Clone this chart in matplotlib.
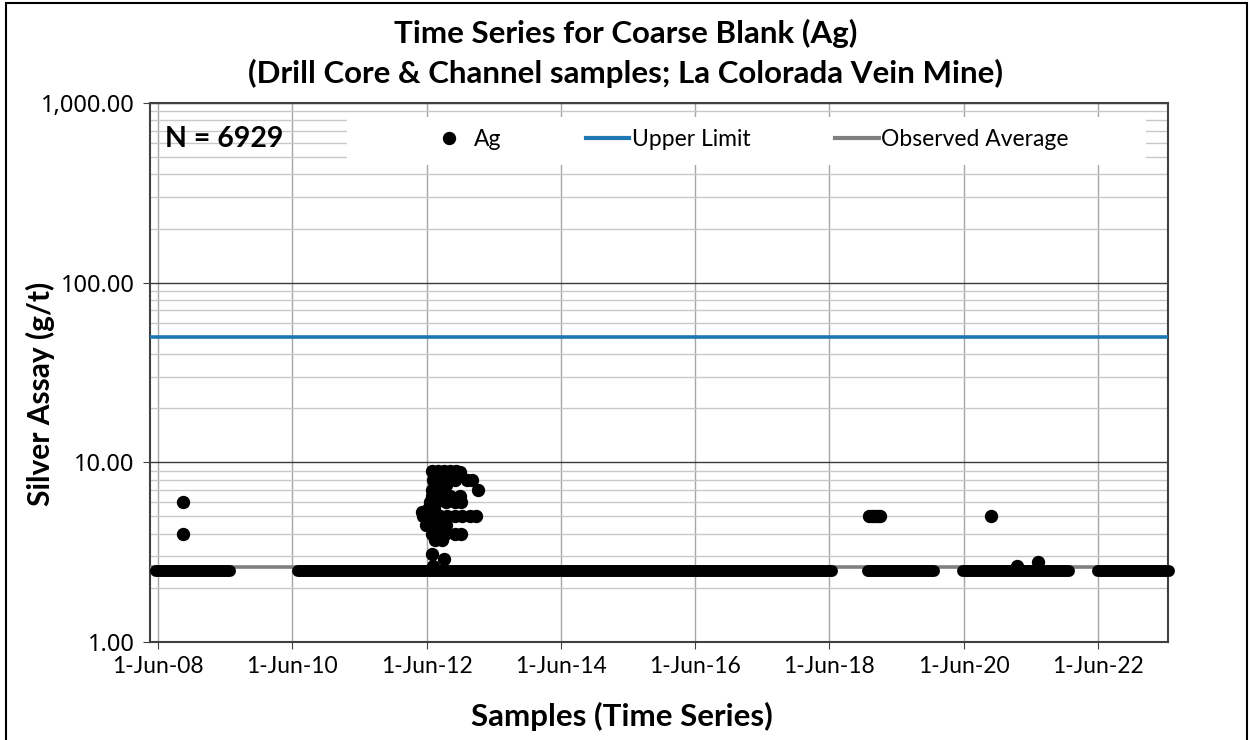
import numpy as np
import pandas as pd
import matplotlib
matplotlib.use("Agg")
import matplotlib.pyplot as plt
from matplotlib.ticker import FuncFormatter, LogLocator
from matplotlib.lines import Line2D
from matplotlib.patches import Rectangle

plt.rcParams['font.family'] = ['Lato', 'DejaVu Sans']

# dense runs of blank results at the detection value (drawn as a band of dots)
band_start = ["2008-05-21", "2010-07-02", "2018-12-27", "2020-05-28", "2022-06-01"]
band_end = ["2009-06-27", "2018-06-15", "2019-12-21", "2021-12-26", "2023-06-22"]
band_value = 2.5

# individual results above the detection value
pt_dates = [
    "2008-10-15", "2008-10-15",
    # 2012-2013 cluster
    "2012-06-30", "2012-08-02", "2012-09-04", "2012-10-06", "2012-11-08", "2012-11-30",
    "2012-07-06", "2012-08-13", "2012-09-20", "2012-11-02", "2013-01-07", "2013-02-03",
    "2012-07-22", "2012-09-15",
    "2012-06-30", "2012-08-13", "2013-03-08",
    "2012-06-30", "2012-08-13", "2012-10-06", "2012-11-30",
    "2012-06-19", "2012-07-22", "2012-09-15", "2012-11-02", "2012-12-05",
    "2012-06-09", "2012-07-11",
    "2012-05-12", "2012-06-09", "2012-07-06", "2012-08-13", "2012-09-20", "2012-11-02",
    "2012-12-11", "2013-01-23", "2013-02-25", "2012-05-07",
    "2012-05-29", "2012-07-22", "2012-09-15",
    "2012-06-30", "2012-08-02", "2012-09-09", "2012-11-02", "2012-12-05",
    "2012-07-17", "2012-08-24",
    "2012-06-30", "2012-09-04", "2012-07-06",
    # 2019-2021
    "2019-01-02", "2019-01-20", "2019-02-05", "2019-02-20", "2019-03-03",
    "2020-10-28", "2021-03-18", "2021-07-10",
]
pt_values = [
    6.0, 4.0,
    9.0, 9.0, 9.0, 9.0, 9.0, 8.8,
    8.0, 8.0, 8.0, 8.0, 8.0, 8.0,
    7.5, 7.5,
    7.0, 7.0, 7.0,
    6.5, 6.5, 6.5, 6.5,
    6.0, 6.0, 6.0, 6.0, 6.0,
    5.5, 5.5,
    5.0, 5.0, 5.0, 5.0, 5.0, 5.0,
    5.0, 5.0, 5.0, 5.3,
    4.5, 4.5, 4.5,
    4.0, 4.0, 4.0, 4.0, 4.0,
    3.7, 3.7,
    3.1, 2.9, 2.65,
    5.0, 5.0, 5.0, 5.0, 5.0,
    5.0, 2.65, 2.8,
]

upper_limit = 50.0
observed_avg = 2.6
n_samples = 6929

x_min, x_max = "2008-04-18", "2023-06-17"
tick_dates = ["2008-06-01", "2010-06-01", "2012-06-01", "2014-06-01",
              "2016-06-01", "2018-06-01", "2020-06-01", "2022-06-01"]

fig = plt.figure(figsize=(12.51, 7.40), dpi=100)
ax = fig.add_axes([150 / 1251, 98 / 740, 1018 / 1251, 539 / 740])

xlo, xhi = pd.Timestamp(x_min), pd.Timestamp(x_max)
ax.plot([xlo, xhi], [upper_limit, upper_limit], color="#1F77B4", lw=2.6, zorder=3)
ax.plot([xlo, xhi], [observed_avg, observed_avg], color="#808080", lw=2.6, zorder=3)

dot = 8.6
for s, e in zip(band_start, band_end):
    ax.plot([pd.Timestamp(s), pd.Timestamp(e)], [band_value, band_value],
            color="black", lw=dot, solid_capstyle="round", zorder=4, clip_on=False)
ax.plot(pd.to_datetime(pt_dates), pt_values, "o", color="black", ms=dot,
        mec="black", zorder=5, clip_on=False)

ax.set_yscale("log")
ax.set_ylim(1, 1000)
ax.set_xlim(xlo, xhi)
ax.yaxis.set_major_locator(LogLocator(base=10, numticks=10))
ax.yaxis.set_minor_locator(LogLocator(base=10, subs=np.arange(2, 10), numticks=10))
ax.yaxis.set_major_formatter(FuncFormatter(lambda v, p: f"{v:,.2f}"))
ax.yaxis.set_minor_formatter(FuncFormatter(lambda v, p: ""))

ticks = pd.to_datetime(tick_dates)
ax.set_xticks(ticks)
ax.set_xticklabels([f"{d.day}-{d:%b-%y}" for d in ticks])

ax.grid(True, which="major", axis="y", color="#3C3C3C", lw=1.0)
ax.grid(True, which="minor", axis="y", color="#C8C8C8", lw=1.0)
ax.grid(True, which="major", axis="x", color="#A6A6A6", lw=1.0)
ax.tick_params(axis="both", which="major", color="#404040",
               length=5, direction="out", pad=6)
ax.tick_params(axis="x", labelsize=16.5, pad=5)
ax.tick_params(axis="y", labelsize=17)
for lab in ax.get_yticklabels():
    lab.set_family(["Noto Sans", "DejaVu Sans"])
ax.tick_params(axis="y", which="minor", length=0)
for sp in ax.spines.values():
    sp.set_color("#404040")
    sp.set_linewidth(1.5)
ax.set_axisbelow(True)

# legend panel
ax.add_patch(Rectangle((0.1935, 0.885), 0.785, 0.089, transform=ax.transAxes,
                       facecolor="white", edgecolor="none", zorder=2.5))
handles = [
    Line2D([], [], marker="o", ls="none", color="black", ms=dot),
    Line2D([], [], color="#1F77B4", lw=3),
    Line2D([], [], color="#808080", lw=3),
]
ax.legend(handles, ["Ag", "Upper Limit", "Observed Average"], ncol=3,
          loc="center", bbox_to_anchor=(0.5875, 0.933), frameon=False,
          fontsize=16.5, handlelength=1.9, handletextpad=0.1, columnspacing=3.7)

ax.text(0.0147, 0.933, f"N = {n_samples}", transform=ax.transAxes, fontsize=20.5,
        fontweight="bold", va="center", ha="left", zorder=6)

fig.text(0.5, 1 - 33 / 740, "Time Series for Coarse Blank (Ag)", ha="center",
         va="center", fontsize=22.5, fontweight="bold")
fig.text(0.5, 1 - 73 / 740, "(Drill Core & Channel samples; La Colorada Vein Mine)",
         ha="center", va="center", fontsize=22.5, fontweight="bold")
fig.text(0.497, 1 - 716 / 740, "Samples (Time Series)", ha="center", va="center",
         fontsize=22.5, fontweight="bold")
fig.text(40 / 1251, 1 - 394 / 740, "Silver Assay (g/t)", ha="center", va="center",
         rotation=90, fontsize=21.5, fontweight="bold")

fig.patches.append(Rectangle((0.005, -0.01), 0.992, 1.006, transform=fig.transFigure,
                             fill=False, edgecolor="black", lw=1.5))

fig.savefig("out.png", dpi=100)
